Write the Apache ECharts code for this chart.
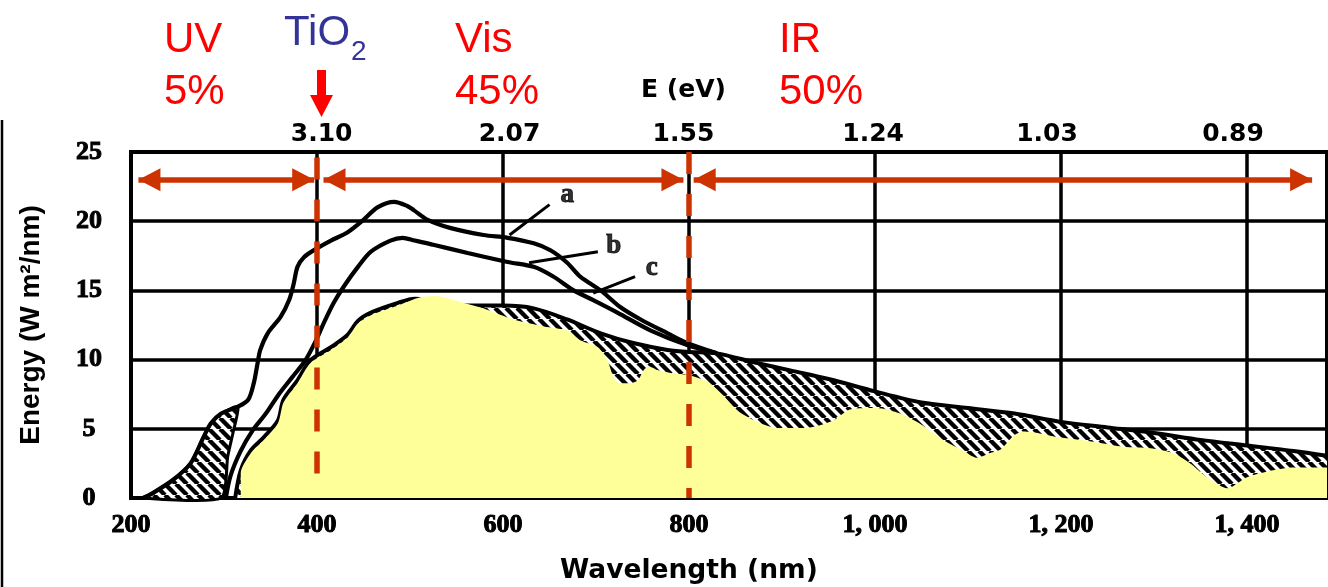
<!DOCTYPE html>
<html><head><meta charset="utf-8">
<script src="https://cdn.jsdelivr.net/npm/echarts@6/dist/echarts.min.js"></script>
<style>html,body{margin:0;padding:0;background:#fff;} #c{width:1328px;height:587px;}</style>
</head><body><div id="c"></div>
<script>
// ---- axis ticks / labels ----
const xTickValues = [200, 400, 600, 800, 1000, 1200, 1400];
const xTickLabels = ['200', '400', '600', '800', '1, 000', '1, 200', '1, 400'];
const yTickValues = [0, 5, 10, 15, 20, 25];
const yTickLabels = ['0', '5', '10', '15', '20', '25'];
const evLabelWavelengths = [405, 607, 794, 998, 1185, 1385];
const evLabels = ['3.10', '2.07', '1.55', '1.24', '1.03', '0.89'];

// ---- curves [wavelength nm, W m^-2 nm^-1] ----
const curveA = [[213,0],[222,0.3],[245,1.3],[264,2.5],[278,4.4],[286,5.4],[297,6.1],[315,6.6],[326,7.1],[332,8.3],[336,9.7],[339,10.7],[347,11.9],[361,13.1],[370,14.3],[375,15.5],[379,16.7],[386,17.4],[399,18.0],[415,18.6],[433,19.2],[450,20.1],[465,21.0],[483,21.4],[497,21.1],[504,20.8],[519,20.1],[544,19.5],[579,19.0],[605,18.8],[633,18.4],[651,17.9],[669,17.0],[683,16.0],[705,15.0],[726,13.8],[748,12.9],[777,11.9],[798,11.2],[830,10.45]];
const curveB = [[302,0],[307,1.6],[318,3.4],[331,4.9],[345,6.1],[359,7.5],[373,8.7],[388,10.0],[399,11.4],[407,12.6],[418,14.1],[429,15.3],[444,16.7],[458,17.8],[479,18.6],[492,18.8],[505,18.6],[525,18.3],[562,17.7],[605,17.05],[633,16.7],[654,16.0],[676,15.0],[697,14.3],[723,13.4],[759,12.1],[798,11.05],[830,10.45]];
const curveC = [[312,0],[318,2.0],[329,3.45],[343,4.4],[358,5.6],[364,7.1],[379,8.5],[393,9.95],[415,10.9],[433,11.8],[444,12.8],[458,13.4],[487,14.1],[505,14.4],[520,14.3],[560,13.9],[600,13.9],[633,13.7],[669,12.9],[705,11.9],[740,11.2],[777,10.7],[800,10.55],[830,10.45],[870,9.8],[910,9.2],[950,8.6],[1000,7.7],[1050,6.9],[1100,6.5],[1150,6.1],[1200,5.5],[1250,5.1],[1300,4.7],[1350,4.2],[1400,3.8],[1450,3.4],[1486,3.05]];
const groundSpectrum = [[318,0],[318,1.8],[329,3.25],[343,4.2],[358,5.4],[364,6.9],[379,8.3],[393,9.75],[415,10.7],[433,11.6],[444,12.6],[458,13.2],[487,13.9],[511,14.5],[530,14.6],[547,14.3],[583,13.6],[611,12.9],[644,12.4],[669,12.1],[683,11.4],[702,10.9],[712,10.0],[719,8.7],[726,8.3],[738,8.3],[745,8.5],[752,9.3],[757,9.5],[766,9.25],[783,9.0],[798,8.9],[820,8.4],[837,7.4],[852,6.3],[877,5.4],[895,5.05],[930,5.1],[955,5.6],[973,6.4],[1002,6.5],[1027,6.1],[1050,5.3],[1073,4.2],[1095,3.4],[1110,2.9],[1124,3.25],[1135,3.5],[1149,4.5],[1160,4.8],[1175,4.7],[1196,4.4],[1231,4.1],[1267,3.7],[1296,3.6],[1320,3.25],[1339,2.5],[1357,1.5],[1379,0.7],[1400,1.5],[1428,2.0],[1450,2.2],[1486,2.2]];
const uvHatch = [[213,0],[222,0.3],[245,1.3],[264,2.5],[278,4.4],[286,5.4],[297,6.1],[315,6.6],[310,4.8],[304,3.0],[297,0]];

// ---- annotations (data units) ----
const regionArrows = [[208,397],[407,794],[805,1470]];
const arrowLevel = 23;
const dashedEdges = [[[400,24.6],[400,1.7]], [[800,25],[800,0]]];
const pointerNames = ['a','b','c'];
const pointerFrom = [[650,21.2],[702,17.8],[742,16.0]];
const pointerTo = [[607,19.0],[628,17.0],[697,14.8]];
const pointerLabelAt = [[669,21.9],[719,18.2],[760,16.6]];

// hatch pattern
function makeHatch() {
  const s = 11, cv = document.createElement('canvas');
  cv.width = s; cv.height = s;
  const g = cv.getContext('2d');
  g.fillStyle = '#fff'; g.fillRect(0,0,s,s);
  g.strokeStyle = '#000'; g.lineWidth = 4.4;
  g.beginPath();
  for (let k = -1; k <= 1; k++) { g.moveTo(k*s, 0); g.lineTo(k*s + s, s); }
  g.stroke();
  return cv;
}
const hatch = { image: makeHatch(), repeat: 'repeat' };

const RED = '#cc3300';
const chart = echarts.init(document.getElementById('c'), null, {renderer:'canvas'});
const tickMap = {}; xTickValues.forEach((v,i)=>tickMap[v]=xTickLabels[i]);
const yMap = {}; yTickValues.forEach((v,i)=>yMap[v]=yTickLabels[i]);
const redText = {color:'#ff0000', fontSize:42, fontWeight:'normal', fontFamily:'Liberation Sans'};
const blueText = {color:'#333399', fontSize:42, fontWeight:'normal', fontFamily:'Liberation Sans'};

const option = {
  backgroundColor: '#fff',
  animation: false,
  title: [
    {text:'UV', left:159, top:14, textStyle:redText},
    {text:'5%', left:159, top:66, textStyle:redText},
    {text:'TiO', left:279, top:7, textStyle:blueText},
    {text:'2', left:346, top:33, textStyle:Object.assign({}, blueText, {fontSize:28})},
    {text:'Vis', left:450, top:14, textStyle:redText},
    {text:'45%', left:450, top:66, textStyle:redText},
    {text:'IR', left:774, top:14, textStyle:redText},
    {text:'50%', left:774, top:66, textStyle:redText},
    {text:'E (eV)', left:636, top:73, textStyle:{color:'#000', fontSize:25, fontWeight:'bold', fontFamily:'DejaVu Sans'}},
    {text:'Wavelength (nm)', left:555, top:553, textStyle:{color:'#000', fontSize:26.5, fontWeight:'bold', fontFamily:'DejaVu Sans'}}
  ],
  grid: {left:131, right:1, top:152, bottom:89, show:true, borderColor:'#000', borderWidth:4, backgroundColor:'transparent'},
  xAxis: [
    {type:'value', min:200, max:1486, interval:200, position:'bottom',
     axisLine:{show:true, lineStyle:{color:'#000', width:4}}, axisTick:{show:false},
     splitLine:{show:true, lineStyle:{color:'#000', width:3.5}},
     axisLabel:{showMaxLabel:false, margin:14, formatter:v=>tickMap[v]||'', color:'#000', fontSize:26, fontWeight:'bold', fontFamily:'Liberation Serif', textBorderColor:'#000', textBorderWidth:1}},
    {type:'value', min:200, max:1486, position:'top',
     axisLine:{show:false}, axisTick:{show:false}, splitLine:{show:false},
     axisLabel:{customValues: evLabelWavelengths, margin:5, formatter:v=>evLabels[evLabelWavelengths.indexOf(v)]||'', color:'#000', fontSize:25, fontWeight:'bold', fontFamily:'DejaVu Sans'}}
  ],
  yAxis: {type:'value', min:0, max:25, interval:5,
    name:'Energy (W m²/nm)', nameLocation:'middle', nameGap:86,
    nameTextStyle:{color:'#000', fontSize:28, fontWeight:'bold', fontFamily:'Liberation Sans'},
    axisLine:{show:false}, axisTick:{show:false},
    splitLine:{show:true, lineStyle:{color:'#000', width:3.5}},
    axisLabel:{margin:42, align:'center', formatter:v=>yMap[v]||'', color:'#000', fontSize:26, fontWeight:'bold', fontFamily:'Liberation Serif', textBorderColor:'#000', textBorderWidth:1}},
  graphic: [
    {type:'line', shape:{x1:2, y1:120, x2:2, y2:587}, style:{stroke:'#000', lineWidth:2.5}},
    {type:'polygon', shape:{points:[[317,70],[326,70],[326,95],[333,95],[321.5,117],[310,95],[317,95]]}, style:{fill:'#ff0000'}}
  ],
  series: [
    {name:'c', type:'line', data:curveC, symbol:'none', smooth:0.3, z:2,
     lineStyle:{color:'#000', width:4}, areaStyle:{color:hatch, opacity:1}},
    {name:'uvHatch', type:'custom', coordinateSystem:'cartesian2d', data:[[300,3]], z:2,
     renderItem:(params, api)=>({type:'polygon', shape:{points:uvHatch.map(p=>api.coord(p)), smooth:0.2},
       style:{fill:hatch, stroke:'#000', lineWidth:3}})},
    {name:'ground', type:'line', data:groundSpectrum, symbol:'none', smooth:0.25, z:3,
     lineStyle:{width:0, color:'#ffff99'}, areaStyle:{color:'#ffff99', opacity:1}},
    {name:'a', type:'line', data:curveA, symbol:'none', smooth:0.3, z:4, lineStyle:{color:'#000', width:4.2}},
    {name:'b', type:'line', data:curveB, symbol:'none', smooth:0.3, z:4, lineStyle:{color:'#000', width:4.2},
     markLine:{silent:true, symbol:'none', label:{show:false}, animation:false,
       data: pointerFrom.map((p,i)=>[{coord:p, lineStyle:{color:'#000', width:3, type:'solid'}},{coord:pointerTo[i]}])}},
    {name:'labels', type:'scatter', symbolSize:0, z:6,
     data: pointerNames.map((n,i)=>({name:n, value:pointerLabelAt[i]})),
     label:{show:true, position:'inside', formatter:'{b}', color:'#000', fontSize:27, fontWeight:'bold', fontFamily:'Liberation Serif', textBorderColor:'#000', textBorderWidth:1}},
    {name:'red', type:'line', data:[[400,24.6]], symbol:'none', lineStyle:{opacity:0}, z:5,
     markLine:{silent:true, label:{show:false}, animation:false,
       data: [
         ...dashedEdges.map(seg=>[{coord:seg[0], symbol:'none', lineStyle:{color:RED, width:5.5, type:[22,20]}},{coord:seg[1], symbol:'none'}]),
         ...regionArrows.map(r=>[{coord:[r[0],arrowLevel], symbol:'triangle', symbolSize:[23,22], symbolOffset:[0,'50%'], lineStyle:{color:RED, width:5.5, type:'solid'}, itemStyle:{color:RED}},
                                 {coord:[r[1],arrowLevel], symbol:'triangle', symbolSize:[23,22], symbolOffset:[0,'50%']}])
       ]}}
  ]
};
chart.setOption(option);
</script></body></html>
